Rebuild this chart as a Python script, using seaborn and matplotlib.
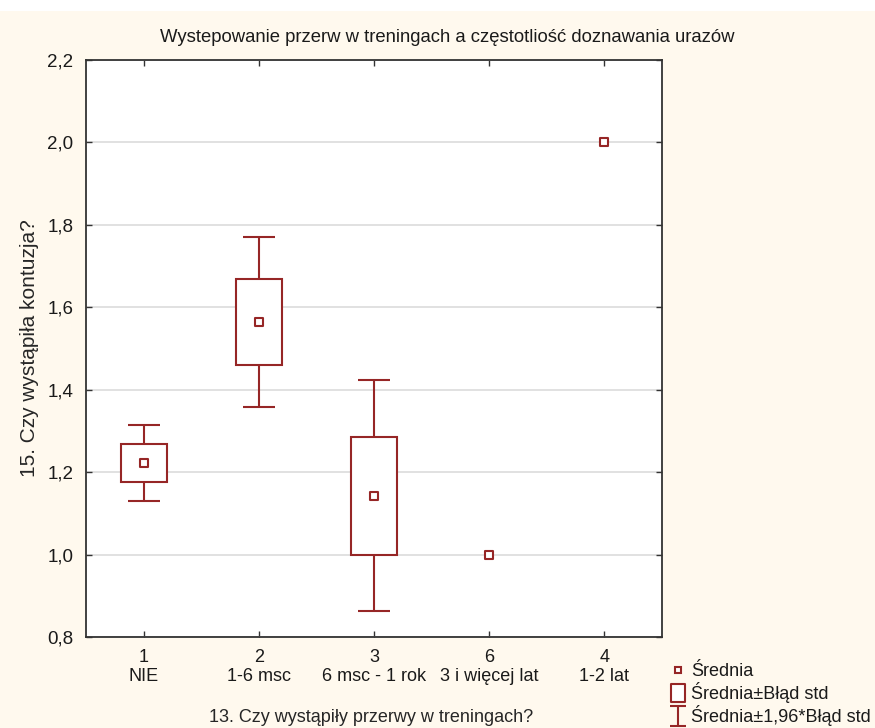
import numpy as np
import pandas as pd
import matplotlib
matplotlib.use('Agg')
import matplotlib.pyplot as plt
import seaborn as sns
from matplotlib.lines import Line2D
from matplotlib.patches import Rectangle
from matplotlib.path import Path

# data
codes = ['1', '2', '3', '6', '4']
groups = ['NIE', '1-6 msc', '6 msc - 1 rok', '3 i więcej lat', '1-2 lat']
means = [1.222, 1.564, 1.143, 1.0, 2.0]
std_err = [0.047, 0.105, 0.143, 0.0, 0.0]
y_ticks = [0.8, 1.0, 1.2, 1.4, 1.6, 1.8, 2.0, 2.2]

title = 'Wystepowanie przerw w treningach a częstotliość doznawania urazów'
x_label = '13. Czy wystąpiły przerwy w treningach?'
y_label = '15. Czy wystąpiła kontuzja?'

red = '#962626'
bg = '#fff9ee'

sns.set_theme(style='white')
plt.rcParams['font.family'] = ['Liberation Sans', 'DejaVu Sans']
plt.rcParams['text.color'] = '#1a1a1a'

df = pd.DataFrame({'pos': np.arange(len(groups)), 'mean': means, 'se': std_err})
df['label'] = [f'{c}\n{g}' for c, g in zip(codes, groups)]
has_se = df[df['se'] > 0]

fig, ax = plt.subplots(figsize=(8.75, 7.28), dpi=100)
fig.patch.set_facecolor(bg)
fig.patches.append(Rectangle((0, 1 - 11 / 728), 1, 11 / 728, transform=fig.transFigure,
                             facecolor='white', edgecolor='none', zorder=-1))
fig.subplots_adjust(left=86 / 875, right=662 / 875, top=1 - 60 / 728, bottom=1 - 637 / 728)
ax.set_facecolor('white')

# whiskers: mean +/- 1.96*SE
ax.errorbar(has_se['pos'], has_se['mean'], yerr=1.96 * has_se['se'], fmt='none',
            ecolor=red, elinewidth=1.5, capsize=11.5, capthick=1.5, zorder=2)
# boxes: mean +/- SE
ax.bar(has_se['pos'], 2 * has_se['se'], bottom=has_se['mean'] - has_se['se'], width=0.4,
       color='white', edgecolor=red, linewidth=1.5, zorder=3)
# means
sns.scatterplot(data=df, x='pos', y='mean', marker='s', s=30, facecolor='white',
                edgecolor=red, linewidth=1.5, ax=ax, zorder=4)

ax.set_xlim(-0.5, len(groups) - 0.5)
ax.set_ylim(0.8, 2.2)
ax.set_yticks(y_ticks)
ax.set_yticklabels([f'{v:.1f}'.replace('.', ',') for v in y_ticks], fontsize=13.5)
ax.set_xticks(df['pos'])
ax.set_xticklabels(df['label'], fontsize=13, linespacing=1.15)
ax.yaxis.grid(True, color='#dcdcdc', linewidth=1.2)
ax.set_axisbelow(True)
ax.tick_params(direction='in', length=4, width=1, color='#333333', pad=9,
               top=True, right=True, bottom=True, left=True, labelcolor='#1a1a1a')
for s in ax.spines.values():
    s.set_color('#333333')
    s.set_linewidth(1.3)

fig.text(447 / 875, 1 - 38 / 728, title, fontsize=13.3, ha='center', va='center')
ax.set_xlabel(x_label, fontsize=13)
ax.xaxis.set_label_coords(0.495, -0.125)
ax.set_ylabel(y_label, fontsize=15)
ax.yaxis.set_label_coords((39 - 86) / 576, 0.5)

box_path = Path([(-0.78, -1), (0.78, -1), (0.78, 1), (-0.78, 1), (-0.78, -1)],
                [Path.MOVETO, Path.LINETO, Path.LINETO, Path.LINETO, Path.CLOSEPOLY])
cap_path = Path([(-0.79, -1), (0.79, -1), (0, -1), (0, 1), (-0.79, 1), (0.79, 1)],
                [Path.MOVETO, Path.LINETO, Path.MOVETO, Path.LINETO, Path.MOVETO, Path.LINETO])
handles = [
    Line2D([], [], ls='none', marker='s', ms=5, mfc='white', mec=red, mew=1.5),
    Line2D([], [], ls='none', marker=box_path, ms=13, mfc='white', mec=red, mew=1.5),
    Line2D([], [], ls='none', marker=cap_path, ms=14, mec=red, mew=1.5, color=red),
]
fig.legend(handles, ['Średnia', 'Średnia±Błąd std', 'Średnia±1,96*Błąd std'],
           loc='upper left', bbox_to_anchor=(670 / 875, 1 - 663 / 728), frameon=False,
           fontsize=13, handlelength=0.9, handletextpad=0.25, labelspacing=0.12,
           borderaxespad=0, borderpad=0)

fig.savefig('out.png', dpi=100, facecolor=fig.get_facecolor())
